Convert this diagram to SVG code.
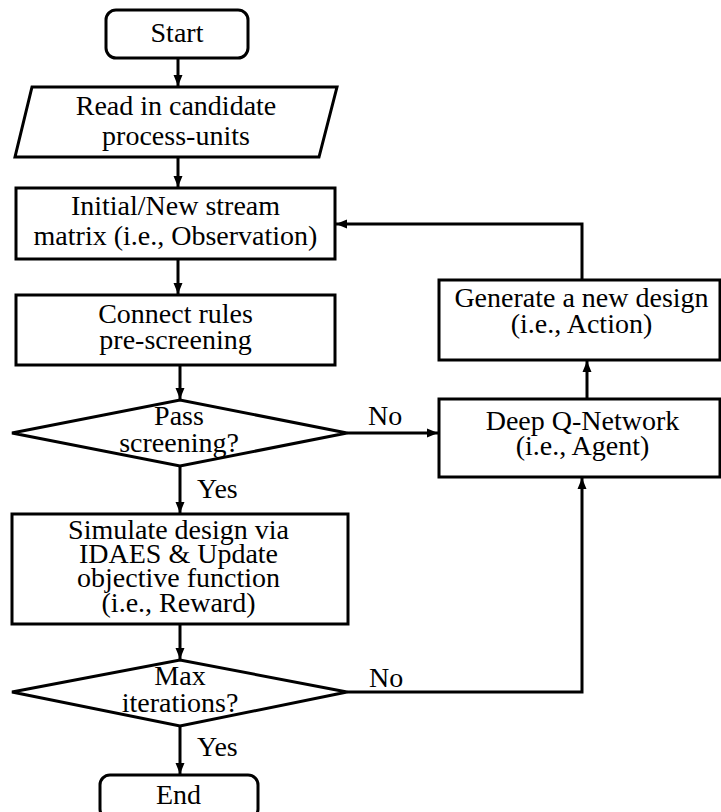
<svg xmlns="http://www.w3.org/2000/svg" width="721" height="812" viewBox="0 0 721 812">
<style>
.box{fill:#fff;stroke:#000;stroke-width:3}
.t{font-family:"Liberation Serif","Times New Roman",serif;font-size:28px;fill:#000;text-anchor:middle}
.l{font-family:"Liberation Serif","Times New Roman",serif;font-size:28px;fill:#000}
.c{fill:none;stroke:#000;stroke-width:3}
</style>
<defs>
<marker id="ah" markerUnits="userSpaceOnUse" markerWidth="12" markerHeight="12" viewBox="0 0 12 12" refX="11" refY="6" orient="auto">
<path d="M0,1.5 L11,6 L0,10.5 Z" fill="#000"/>
</marker>
</defs>
<rect width="721" height="812" fill="#fff"/>
<g id="connectors">
<line class="c" x1="178" y1="58" x2="178" y2="86" marker-end="url(#ah)"/>
<line class="c" x1="178" y1="157" x2="178" y2="187" marker-end="url(#ah)"/>
<line class="c" x1="178" y1="259" x2="178" y2="294" marker-end="url(#ah)"/>
<line class="c" x1="180" y1="365" x2="180" y2="399" marker-end="url(#ah)"/>
<line class="c" x1="180" y1="466" x2="180" y2="513" marker-end="url(#ah)"/>
<line class="c" x1="180" y1="624" x2="180" y2="659" marker-end="url(#ah)"/>
<line class="c" x1="180" y1="726" x2="180" y2="774" marker-end="url(#ah)"/>
<line class="c" x1="347" y1="433" x2="438" y2="433" marker-end="url(#ah)"/>
<polyline class="c" points="347,692 582,692 582,478" marker-end="url(#ah)"/>
<line class="c" x1="587" y1="399" x2="587" y2="361" marker-end="url(#ah)"/>
<polyline class="c" points="582,280 582,224 336,224" marker-end="url(#ah)"/>
<text class="l" x="368" y="425">No</text>
<text class="l" x="369" y="687">No</text>
<text class="l" x="197" y="498">Yes</text>
<text class="l" x="197" y="756">Yes</text>
</g>
<g id="start">
<rect class="box" x="106" y="10" width="142" height="48" rx="10"/>
<text class="t" x="177" y="42">Start</text>
</g>
<g id="read">
<polygon class="box" points="32,87 337,87 319,157 15,157"/>
<text class="t" x="176" y="115">Read in candidate</text>
<text class="t" x="176" y="145">process-units</text>
</g>
<g id="matrix">
<rect class="box" x="16" y="188" width="319" height="71"/>
<text class="t" x="175.5" y="215">Initial/New stream</text>
<text class="t" x="175.5" y="245">matrix (i.e., Observation)</text>
</g>
<g id="rules">
<rect class="box" x="16" y="295" width="319" height="70"/>
<text class="t" x="175.5" y="323">Connect rules</text>
<text class="t" x="175.5" y="349">pre-screening</text>
</g>
<g id="pass">
<polygon class="box" points="12,433 180,400 347,433 180,466"/>
<text class="t" x="179" y="425">Pass</text>
<text class="t" x="179" y="452">screening?</text>
</g>
<g id="simulate">
<rect class="box" x="12" y="514" width="336" height="110"/>
<text class="t" x="178.5" y="539">Simulate design via</text>
<text class="t" x="178.5" y="563">IDAES &amp; Update</text>
<text class="t" x="178.5" y="587">objective function</text>
<text class="t" x="178.5" y="612">(i.e., Reward)</text>
</g>
<g id="max">
<polygon class="box" points="12,692 180,660 347,692 180,726"/>
<text class="t" x="180" y="685">Max</text>
<text class="t" x="180" y="712">iterations?</text>
</g>
<g id="end">
<rect class="box" x="100" y="775" width="158" height="44" rx="10"/>
<text class="t" x="178.5" y="804">End</text>
</g>
<g id="generate">
<rect class="box" x="439" y="280" width="281" height="80"/>
<text class="t" x="581.5" y="307">Generate a new design</text>
<text class="t" x="581.5" y="333">(i.e., Action)</text>
</g>
<g id="dqn">
<rect class="box" x="439" y="399" width="281" height="78"/>
<text class="t" x="582.5" y="430">Deep Q-Network</text>
<text class="t" x="582.5" y="455">(i.e., Agent)</text>
</g>
</svg>
